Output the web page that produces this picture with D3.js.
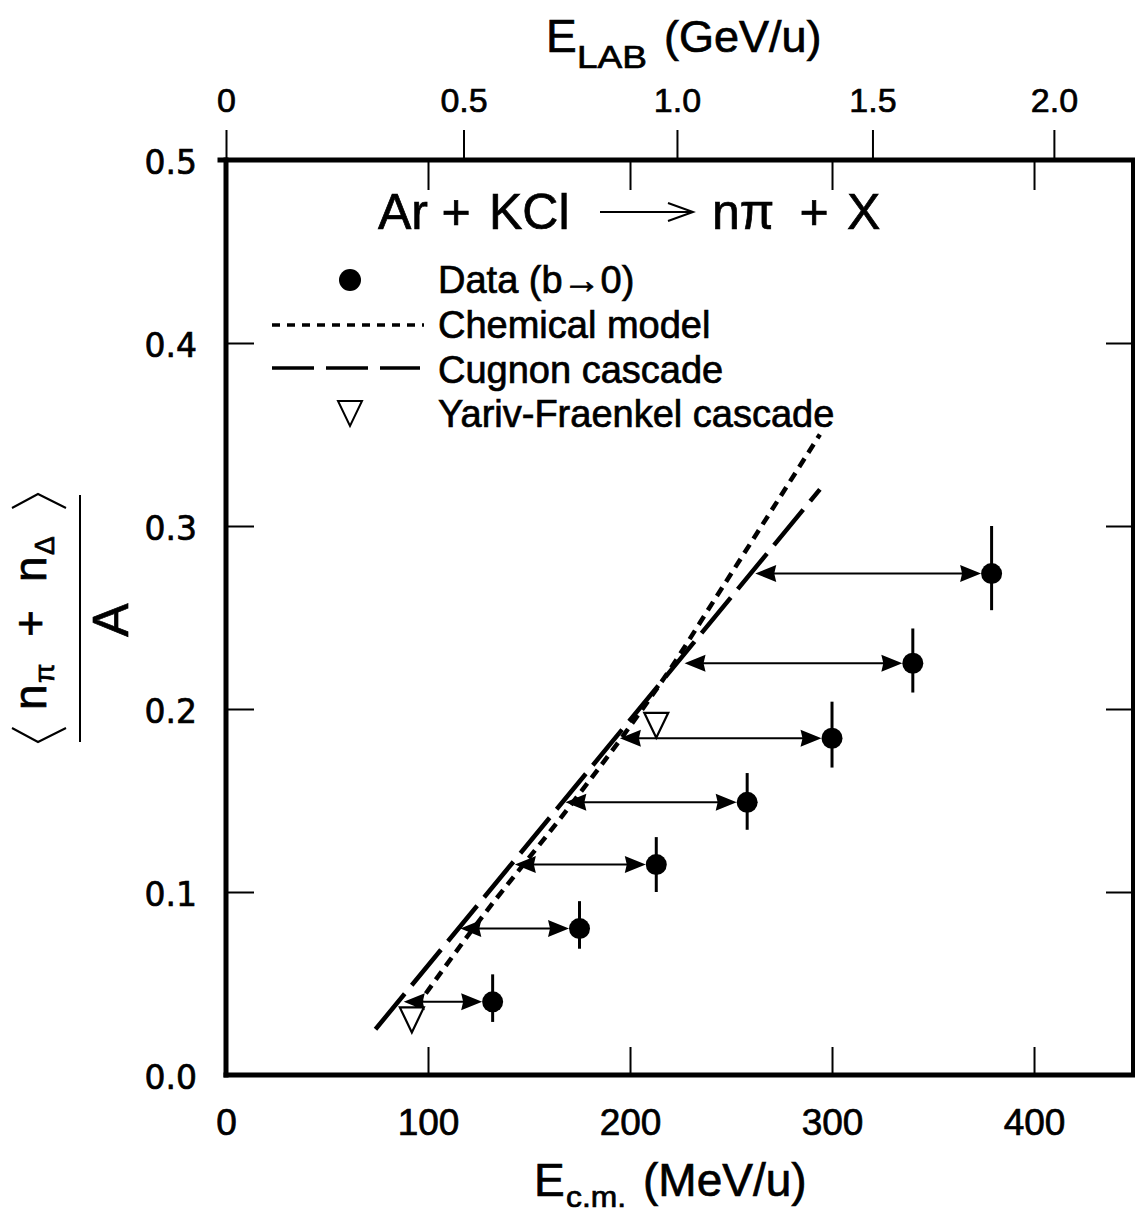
<!DOCTYPE html>
<html><head><meta charset="utf-8">
<script src="https://cdn.jsdelivr.net/npm/d3@7"></script>
<style>body{margin:0;background:#fff}svg{display:block}svg text{stroke:#000;stroke-width:0.7px}</style>
</head><body>
<svg id="c" width="1135" height="1216"></svg>
<script>
// ---- data ----
const ecmData   = [132, 175, 213, 258, 300, 340, 379];
const yData     = [0.040, 0.080, 0.115, 0.149, 0.184, 0.225, 0.274];
const yErrHi    = [0.055, 0.095, 0.130, 0.165, 0.204, 0.244, 0.300];
const yErrLo    = [0.029, 0.069, 0.100, 0.134, 0.168, 0.209, 0.254];
const arrowLeftE = [88, 116, 143, 168, 195, 227, 262];
const chemE = [94, 121, 171, 197, 220, 242, 294];
const chemY = [0.037, 0.078, 0.148, 0.186, 0.222, 0.260, 0.350];
const cugE = [74, 294];
const cugY = [0.025, 0.320];
const yfE = [92, 213];
const yfY = [0.032, 0.193];
const ecmTicks = [0, 100, 200, 300, 400];
const elabTicks = [0, 0.5, 1.0, 1.5, 2.0];
const elabTickLabels = ["0", "0.5", "1.0", "1.5", "2.0"];
const yTicks = [0, 0.1, 0.2, 0.3, 0.4, 0.5];

const svg = d3.select("#c");
const FONT = "'Liberation Sans', Arial, Helvetica, sans-serif";
const L = 226, R = 1133, T = 160, B = 1075;
const x = d3.scaleLinear().domain([0, 449]).range([L, R]);
const y = d3.scaleLinear().domain([0, 0.5]).range([B, T]);

// E_lab (GeV/u) -> E_cm kinetic per nucleon (MeV/u) for symmetric system
const mN = 931.5;
const ecmFromLab = g => Math.sqrt(2 * mN * (g * 1000 + 2 * mN)) / 2 - mN;
const xLab = t => x(ecmFromLab(t));
xLab.copy = () => xLab; xLab.range = () => x.range(); xLab.domain = () => [0, 2.2];

// ---- axes (ticks) ----
const gb = svg.append("g").attr("transform", `translate(0,${B})`)
  .call(d3.axisBottom(x).tickValues(ecmTicks).tickSizeInner(-28).tickSizeOuter(0).tickPadding(34));
const gti = svg.append("g").attr("transform", `translate(0,${T})`)
  .call(d3.axisTop(x).tickValues(ecmTicks.slice(1)).tickSizeInner(-30).tickSizeOuter(0).tickFormat(""));
const gto = svg.append("g").attr("transform", `translate(0,${T})`)
  .call(d3.axisTop(xLab).tickValues(elabTicks).tickSizeInner(30).tickSizeOuter(0).tickPadding(18)
    .tickFormat((d, i) => elabTickLabels[i]));
const gl = svg.append("g").attr("transform", `translate(${L},0)`)
  .call(d3.axisLeft(y).tickValues(yTicks).tickSizeInner(-28).tickSizeOuter(0).tickPadding(29)
    .tickFormat(d3.format(".1f")));
const gr = svg.append("g").attr("transform", `translate(${R},0)`)
  .call(d3.axisRight(y).tickValues(yTicks.slice(1, 5)).tickSizeInner(-27).tickSizeOuter(0).tickFormat(""));

[gb, gti, gto, gl, gr].forEach(g => {
  g.select(".domain").remove();
  g.selectAll(".tick line").attr("stroke", "#000").attr("stroke-width", 2);
});
gb.selectAll(".tick text").attr("font-family", FONT).attr("font-size", 37).attr("fill", "#000");
gto.selectAll(".tick text").attr("font-family", FONT).attr("font-size", 34).attr("fill", "#000");
gl.selectAll(".tick text").attr("font-family", "'DejaVu Sans', sans-serif").attr("font-size", 33)
  .attr("fill", "#000").attr("dy", "0.42em");

// frame
const frame = svg.append("g").attr("stroke", "#000").attr("stroke-linecap", "square");
frame.append("line").attr("x1", L).attr("x2", L).attr("y1", T).attr("y2", B).attr("stroke-width", 5);
frame.append("line").attr("x1", L).attr("x2", 1135).attr("y1", B).attr("y2", B).attr("stroke-width", 5);
frame.append("line").attr("x1", L - 6).attr("x2", 1135).attr("y1", T).attr("y2", T).attr("stroke-width", 5);
frame.append("line").attr("x1", R).attr("x2", R).attr("y1", T).attr("y2", B).attr("stroke-width", 4);

// ---- model curves ----
svg.append("path").datum(chemE.map((e, i) => [e, chemY[i]]))
  .attr("d", d3.line().x(d => x(d[0])).y(d => y(d[1])).curve(d3.curveMonotoneX))
  .attr("fill", "none").attr("stroke", "#000")
  .attr("stroke-width", 4.5).attr("stroke-dasharray", "10,7");
svg.append("path").datum(cugE.map((e, i) => [e, cugY[i]]))
  .attr("d", d3.line().x(d => x(d[0])).y(d => y(d[1]))).attr("fill", "none").attr("stroke", "#000")
  .attr("stroke-width", 4.5).attr("stroke-dasharray", "46,11");

// ---- arrows, error bars, points ----
const R0 = 10.5, AL = 21, AW = 8.5;
const head = (tx, ty, dir) => `M${tx},${ty}L${tx + dir * AL},${ty - AW}L${tx + dir * (AL - 2)},${ty}L${tx + dir * AL},${ty + AW}Z`;
const pts = ecmData.map((e, i) => ({ e, v: yData[i], hi: yErrHi[i], lo: yErrLo[i], le: arrowLeftE[i] }));
const gp = svg.append("g");
pts.forEach(p => {
  const cx = x(p.e), cy = y(p.v), lx = x(p.le), rx = cx - R0;
  gp.append("line").attr("x1", lx + 8).attr("x2", rx - 8).attr("y1", cy).attr("y2", cy)
    .attr("stroke", "#000").attr("stroke-width", 2);
  gp.append("path").attr("d", head(lx, cy, 1)).attr("fill", "#000");
  gp.append("path").attr("d", head(rx, cy, -1)).attr("fill", "#000");
  gp.append("line").attr("x1", cx).attr("x2", cx).attr("y1", y(p.hi)).attr("y2", y(p.lo))
    .attr("stroke", "#000").attr("stroke-width", 3);
  gp.append("circle").attr("cx", cx).attr("cy", cy).attr("r", R0).attr("fill", "#000");
});

// Yariv-Fraenkel open triangles
const tri = (cx, cy) => `M${cx - 12},${cy - 9}L${cx + 12},${cy - 9}L${cx},${cy + 16}Z`;
yfE.forEach((e, i) => {
  svg.append("path").attr("d", tri(x(e), y(yfY[i]))).attr("fill", "#fff")
    .attr("stroke", "#000").attr("stroke-width", 2.2).attr("stroke-linejoin", "miter");
});

// ---- title ----
const tg = svg.append("g").attr("font-family", FONT).attr("font-size", 50).attr("fill", "#000");
tg.append("text").attr("x", 378).attr("y", 229).text("Ar");
tg.append("text").attr("x", 456).attr("y", 229).attr("text-anchor", "middle").text("+");
tg.append("text").attr("x", 489).attr("y", 229).text("KCl");
tg.append("line").attr("x1", 600).attr("x2", 692).attr("y1", 212).attr("y2", 212).attr("stroke", "#000").attr("stroke-width", 2);
tg.append("path").attr("d", "M668,203L693,212L668,221").attr("fill", "none").attr("stroke", "#000").attr("stroke-width", 2);
tg.append("text").attr("x", 712).attr("y", 229).text("nπ");
tg.append("text").attr("x", 814).attr("y", 229).attr("text-anchor", "middle").text("+");
tg.append("text").attr("x", 847).attr("y", 229).text("X");

// ---- legend ----
const lg = svg.append("g").attr("font-family", FONT).attr("font-size", 38).attr("fill", "#000");
const legendLabels = ["Data (b→0)", "Chemical model", "Cugnon cascade", "Yariv-Fraenkel cascade"];
const legBase = [293, 338, 383, 427];
legendLabels.forEach((t, i) => lg.append("text").attr("x", 438).attr("y", legBase[i]).text(t));
lg.append("circle").attr("cx", 350).attr("cy", 280).attr("r", 11).attr("fill", "#000");
lg.append("line").attr("x1", 272).attr("x2", 424).attr("y1", 325).attr("y2", 325)
  .attr("stroke", "#000").attr("stroke-width", 3.5).attr("stroke-dasharray", "8,7");
lg.append("line").attr("x1", 272).attr("x2", 420).attr("y1", 368).attr("y2", 368)
  .attr("stroke", "#000").attr("stroke-width", 3.5).attr("stroke-dasharray", "42,12");
lg.append("path").attr("d", tri(350, 410)).attr("fill", "#fff").attr("stroke", "#000").attr("stroke-width", 2);

// ---- axis titles ----
const topTitle = svg.append("g").attr("font-family", FONT).attr("fill", "#000");
topTitle.append("text").attr("x", 546).attr("y", 52).attr("font-size", 46).text("E");
topTitle.append("text").attr("x", 577).attr("y", 68).attr("font-size", 31)
  .attr("textLength", 70).attr("lengthAdjust", "spacingAndGlyphs").text("LAB");
topTitle.append("text").attr("x", 664).attr("y", 52).attr("font-size", 45).text("(GeV/u)");

const botTitle = svg.append("g").attr("font-family", FONT).attr("fill", "#000");
botTitle.append("text").attr("x", 534).attr("y", 1196).attr("font-size", 46).text("E");
botTitle.append("text").attr("x", 566).attr("y", 1207).attr("font-size", 29)
  .attr("textLength", 60).attr("lengthAdjust", "spacingAndGlyphs").text("c.m.");
botTitle.append("text").attr("x", 643).attr("y", 1196).attr("font-size", 46).text("(MeV/u)");

// ---- y-axis label (rotated) ----
const yl = svg.append("g").attr("transform", "translate(0,620) rotate(-90)")
  .attr("font-family", FONT).attr("fill", "#000");
const num = yl.append("text").attr("y", 46).attr("font-size", 46);
num.append("tspan").attr("x", -90).text("n");
num.append("tspan").attr("x", -63).attr("dy", 8).attr("font-size", 28).text("π");
num.append("tspan").attr("x", -17).attr("dy", -8).text("+");
num.append("tspan").attr("x", 38).text("n");
num.append("tspan").attr("x", 65).attr("dy", 8).attr("font-size", 28).text("Δ");
yl.append("line").attr("x1", -122).attr("x2", 125).attr("y1", 80).attr("y2", 80).attr("stroke", "#000").attr("stroke-width", 2);
yl.append("text").attr("x", 0).attr("y", 128).attr("font-size", 50).attr("text-anchor", "middle").text("A");
yl.append("path").attr("d", "M-108,12L-122,38L-108,66").attr("fill", "none").attr("stroke", "#000").attr("stroke-width", 2);
yl.append("path").attr("d", "M112,12L126,38L112,66").attr("fill", "none").attr("stroke", "#000").attr("stroke-width", 2);
</script>
</body></html>
